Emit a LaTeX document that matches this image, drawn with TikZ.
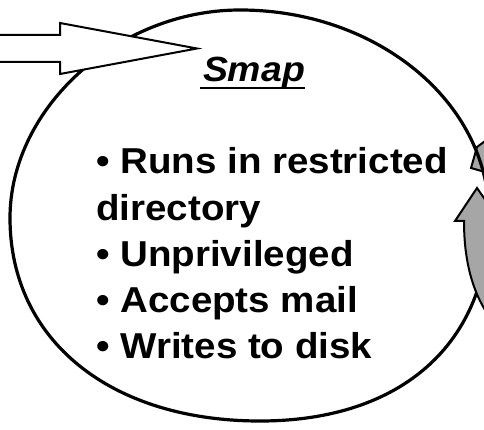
\documentclass[tikz,border=0pt]{standalone}
\usepackage{fontspec}
\setmainfont{Liberation Sans}[FakeStretch=1.07]
\begin{document}
\begin{tikzpicture}[x=1pt,y=-1pt]
\useasboundingbox (0,0) rectangle (484,430);
\clip (0,0) rectangle (484,430);
\tikzset{
  outline/.style={line width=3.2pt, line join=round},
  greyarrow/.style={fill=black!35, draw=black, line width=2pt, line join=miter},
  inarrow/.style={fill=white, draw=black, line width=2pt, line join=miter},
  item/.style={anchor=base west, inner sep=0pt, font=\fontsize{36}{40}\selectfont\bfseries},
  title/.style={anchor=base, inner sep=0pt, font=\fontsize{35}{40}\selectfont\bfseries\itshape},
}
% extreme points of the process outline
\coordinate (L) at (10,218);
\coordinate (T) at (240,10);
\coordinate (R) at (489,216);
\coordinate (B) at (260,421);
% head of the returning arrow, partly hidden by the outline
\draw[greyarrow] (477,147) -- (471,168) -- (492,174) -- (492,136) -- cycle;
% the process outline: an ellipse that is fuller at the bottom
\draw[outline] (L) .. controls (10,108) and (118,10) .. (T)
  .. controls (377,10) and (489,102) .. (R)
  .. controls (489,343) and (402,421) .. (B)
  .. controls (110,421) and (10,340) .. (L) -- cycle;
% upward grey arrow on the right
\draw[greyarrow] (477,188) -- (455,221) -- (464,221)
  .. controls (464,255) and (470,285) .. (485,310) -- (500,330) -- (500,221) -- cycle;
% incoming white block arrow
\draw[inarrow] (-5,35) -- (60,35) -- (60,23) -- (197,48.5) -- (60,74) -- (60,62) -- (-5,62) -- cycle;
% title
\node[title] (smap) at (254,82) {Smap};
\draw[line width=2pt] (200,88.5) -- (305,88.5);
% list of properties
\node[item] (l1) at (96,174)   {• Runs in restricted};
\node[item] (l2) at (96,220.7) {directory};
\node[item] (l3) at (96,266.7) {• Unprivileged};
\node[item] (l4) at (96,312.3) {• Accepts mail};
\node[item] (l5) at (96,358.3) {• Writes to disk};
\end{tikzpicture}
\end{document}
